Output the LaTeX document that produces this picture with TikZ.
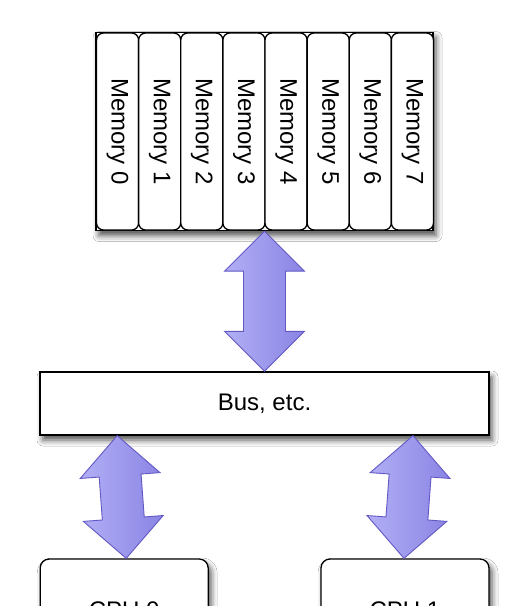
\documentclass[tikz,border=0pt]{standalone}
\usepackage{fontspec}
\setmainfont{Liberation Sans}
\usetikzlibrary{calc,shadows.blur}
\definecolor{arrowL}{HTML}{B2AFF5}
\definecolor{arrowR}{HTML}{8A84E4}
\definecolor{arrowE}{HTML}{6358C4}
\tikzset{
  lbl/.style={font=\fontsize{24}{28}\selectfont},
  boxshadow/.style={blur shadow={shadow xshift=3pt, shadow yshift=-5pt, shadow blur radius=6pt, shadow opacity=70}},
  membox/.style={draw=black, line width=1.3pt, fill=white, boxshadow, inner sep=0pt},
  memcol/.style={draw=black, line width=1.3pt, fill=white, rounded corners=7pt, lbl, inner sep=0pt},
  busbox/.style={draw=black, line width=1.3pt, fill=white, boxshadow, lbl, inner sep=0pt},
  cpubox/.style={draw=black, line width=1.3pt, fill=white, boxshadow, lbl, rounded corners=9pt, inner sep=0pt},
  barrow/.style={draw=arrowE, line width=0.9pt, left color=arrowL, right color=arrowR, line join=miter}
}
\newcommand\blockarrow[3]{%
  \coordinate (#1a) at ($(#2)!40pt!(#3)$);
  \coordinate (#1b) at ($(#3)!40pt!(#2)$);
  \path[barrow] (#2) -- ($(#1a)!40pt!90:(#2)$) -- ($(#1a)!21pt!90:(#2)$)
    -- ($(#1b)!21pt!-90:(#3)$) -- ($(#1b)!40pt!-90:(#3)$) -- (#3)
    -- ($(#1b)!40pt!90:(#3)$) -- ($(#1b)!21pt!90:(#3)$)
    -- ($(#1a)!21pt!-90:(#2)$) -- ($(#1a)!40pt!-90:(#2)$) -- cycle;}
\begin{document}
\begin{tikzpicture}[x=1pt,y=-1pt]
\useasboundingbox (0,0) rectangle (528,606);
\clip (0,0) rectangle (528,606);
\fill[white] (0,0) rectangle (528,606);
% memory block
\node[membox, minimum width=337pt, minimum height=198pt] (mem) at (264.5,131.5) {};
\foreach \i in {0,...,7}
  \node[memcol, rotate=-90, minimum width=197pt, minimum height=42.1pt] (m\i) at ({117.56+42.125*\i},131.5) {Memory \i};
% bus
\node[busbox, minimum width=449pt, minimum height=63pt] (bus) at (264.5,403.5) {Bus, etc.};
% cpus
\node[cpubox, minimum width=168pt, minimum height=102pt] (cpu0) at (124.2,610) {CPU 0};
\node[cpubox, minimum width=168pt, minimum height=102pt] (cpu1) at (405,610) {CPU 1};
% arrows
\coordinate (t1) at (mem.south);
\coordinate (t2) at (bus.north);
\coordinate (l1) at ([xshift=-7pt]cpu0.north |- bus.south);
\coordinate (l2) at ([xshift=2pt]cpu0.north);
\coordinate (r1) at ([xshift=8pt]cpu1.north |- bus.south);
\coordinate (r2) at ([xshift=-1pt]cpu1.north);
\blockarrow{ta}{t1}{t2}
\blockarrow{la}{l1}{l2}
\blockarrow{ra}{r1}{r2}
\end{tikzpicture}
\end{document}
